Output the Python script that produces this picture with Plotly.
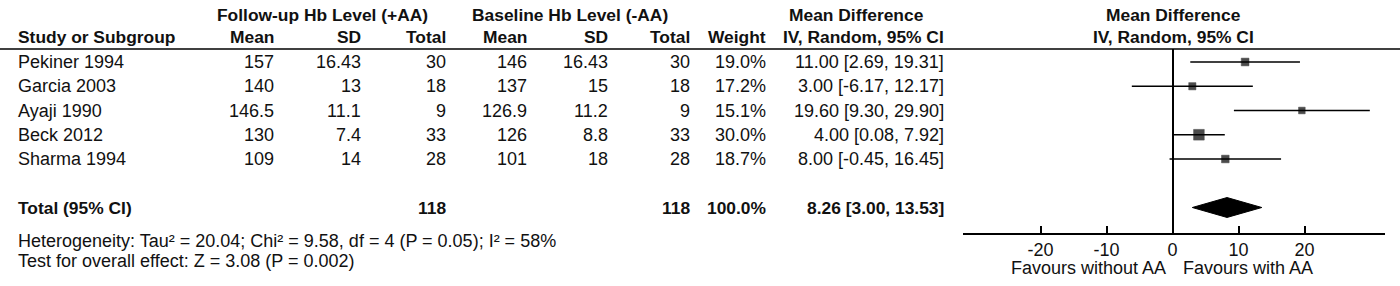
import plotly.graph_objects as go

# ---------------- data ----------------
studies = ["Pekiner 1994", "Garcia 2003", "Ayaji 1990", "Beck 2012", "Sharma 1994"]
fu_mean = [157, 140, 146.5, 130, 109]
fu_sd = [16.43, 13, 11.1, 7.4, 14]
fu_n = [30, 18, 9, 33, 28]
bl_mean = [146, 137, 126.9, 126, 101]
bl_sd = [16.43, 15, 11.2, 8.8, 18]
bl_n = [30, 18, 9, 33, 28]
weights = [19.0, 17.2, 15.1, 30.0, 18.7]
md = [11.00, 3.00, 19.60, 4.00, 8.00]
ci_lo = [2.69, -6.17, 9.30, 0.08, -0.45]
ci_hi = [19.31, 12.17, 29.90, 7.92, 16.45]

total_label = "Total (95% CI)"
total_fu_n = 118
total_bl_n = 118
total_weight = 100.0
total_md = 8.26
total_lo = 3.00
total_hi = 13.53

heterogeneity = "Heterogeneity: Tau² = 20.04; Chi² = 9.58, df = 4 (P = 0.05); I² = 58%"
overall = "Test for overall effect: Z = 3.08 (P = 0.002)"

tick_vals = [-20, -10, 0, 10, 20]
tick_text = ["-20", "-10", "0", "10", "20"]
favours_left = "Favours without AA"
favours_right = "Favours with AA"

group1_header = "Follow-up Hb Level (+AA)"
group2_header = "Baseline Hb Level (-AA)"
md_header1 = "Mean Difference"
md_header2 = "IV, Random, 95% CI"

# ---------------- layout helpers ----------------
W, H = 1400, 286
FONT = "Liberation Sans, Arial, sans-serif"
TXT = "#111111"
REG = 18
BOLD = 17.4


def px(x):
    return x / W


def py(y):
    return 1 - y / H


ROW_Y0, ROW_DY = 62, 24.25
LINE_Y, AXIS_Y = 49, 233
rows = list(range(len(studies)))
total_row = 6
y_top = (LINE_Y - ROW_Y0) / ROW_DY
y_bot = (AXIS_Y - ROW_Y0) / ROW_DY

fig = go.Figure()

# study points with CI
fig.add_trace(go.Scatter(
    x=md, y=rows, mode="markers",
    marker=dict(symbol="square", color="black",
                size=[2.6 + 0.27 * w for w in weights],
                line=dict(width=0.5, color="black")),
    error_x=dict(type="data", symmetric=False,
                 array=[h - m for h, m in zip(ci_hi, md)],
                 arrayminus=[m - l for m, l in zip(md, ci_lo)],
                 color="black", thickness=1.6, width=0),
    showlegend=False, hoverinfo="skip"))

# pooled diamond
dh = 0.41
fig.add_trace(go.Scatter(
    x=[total_lo, total_md, total_hi, total_md, total_lo],
    y=[total_row, total_row - dh, total_row, total_row + dh, total_row],
    mode="lines", fill="toself", fillcolor="black",
    line=dict(color="black", width=1), showlegend=False, hoverinfo="skip"))

ann = []


def add(text, x, y, anchor="right", bold=False, yref="paper"):
    ann.append(dict(
        text=f"<b>{text}</b>" if bold else text,
        x=px(x), xref="paper", y=y, yref=yref,
        xanchor=anchor, yanchor="middle", showarrow=False, borderpad=0,
        font=dict(family=FONT, size=BOLD if bold else REG, color=TXT)))


# headers
h1, h2 = py(15), py(37)
add(group1_header, 322.5, h1, "center", True)
add(group2_header, 570, h1, "center", True)
add(md_header1, 857, h1, "center", True)
add(md_header1, 1173, h1, "center", True)
add("Study or Subgroup", 17, h2, "left", True)
add("Mean", 275, h2, bold=True)
add("SD", 362, h2, bold=True)
add("Total", 447, h2, bold=True)
add("Mean", 528, h2, bold=True)
add("SD", 609, h2, bold=True)
add("Total", 691, h2, bold=True)
add("Weight", 767, h2, bold=True)
add(md_header2, 945, h2, bold=True)
add(md_header2, 1173, h2, "center", True)

# study rows
for i, r in enumerate(rows):
    add(studies[i], 17, r, "left", yref="y")
    add(f"{fu_mean[i]:g}", 275, r, yref="y")
    add(f"{fu_sd[i]:g}", 362, r, yref="y")
    add(f"{fu_n[i]}", 447, r, yref="y")
    add(f"{bl_mean[i]:g}", 528, r, yref="y")
    add(f"{bl_sd[i]:g}", 609, r, yref="y")
    add(f"{bl_n[i]}", 691, r, yref="y")
    add(f"{weights[i]:.1f}%", 767, r, yref="y")
    add(f"{md[i]:.2f} [{ci_lo[i]:.2f}, {ci_hi[i]:.2f}]", 945, r, yref="y")

# total row
add(total_label, 17, total_row, "left", True, yref="y")
add(f"{total_fu_n}", 447, total_row, bold=True, yref="y")
add(f"{total_bl_n}", 691, total_row, bold=True, yref="y")
add(f"{total_weight:.1f}%", 767, total_row, bold=True, yref="y")
add(f"{total_md:.2f} [{total_lo:.2f}, {total_hi:.2f}]", 945, total_row, bold=True, yref="y")

# footers
add(heterogeneity, 17, py(241), "left")
add(overall, 17, py(261), "left")
add(favours_left, 1167, py(268), "right")
add(favours_right, 1182, py(268), "left")

fig.update_layout(
    width=W, height=H,
    margin=dict(l=0, r=0, t=0, b=0),
    paper_bgcolor="white", plot_bgcolor="white",
    showlegend=False,
    annotations=ann,
    shapes=[dict(type="line", xref="paper", yref="paper", x0=0, x1=1,
                 y0=py(LINE_Y), y1=py(LINE_Y), line=dict(color="black", width=1.6))],
    xaxis=dict(domain=[px(962.7), px(1385)], range=[-31.8, 32.2],
               showgrid=False, zeroline=True, zerolinecolor="black", zerolinewidth=1.5,
               showline=True, linecolor="black", linewidth=1.5,
               ticks="inside", ticklen=7, tickwidth=1.5, tickcolor="black",
               tickvals=tick_vals, ticktext=tick_text,
               tickfont=dict(family=FONT, size=REG, color=TXT), fixedrange=True),
    yaxis=dict(domain=[py(AXIS_Y), py(LINE_Y)], range=[y_bot, y_top],
               visible=False, fixedrange=True),
)

fig.write_html(
    "out.html",
    config={"displayModeBar": False},
    post_script="document.body.style.margin='0';document.body.style.overflow='hidden';",
)
